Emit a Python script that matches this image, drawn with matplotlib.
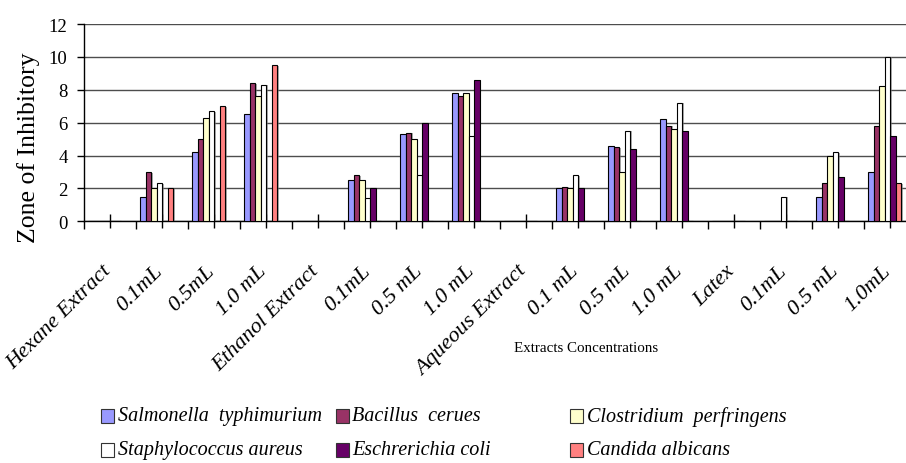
import numpy as np
import matplotlib
matplotlib.use("Agg")
import matplotlib.pyplot as plt
from matplotlib import patheffects as pe
from matplotlib.patches import Rectangle
from matplotlib.transforms import offset_copy

plt.rcParams["font.family"] = ["Liberation Serif", "DejaVu Serif"]

# ---- data ----
CATEGORIES = ["Hexane Extract", "0.1mL", "0.5mL", "1.0 mL",
              "Ethanol Extract", "0.1mL", "0.5 mL", "1.0 mL",
              "Aqueous Extract", "0.1 mL", "0.5 mL", "1.0 mL",
              "Latex", "0.1mL", "0.5 mL", "1.0mL"]
SPECIES = ["Salmonella  typhimurium", "Bacillus  cerues", "Clostridium  perfringens",
           "Staphylococcus aureus", "Eschrerichia coli", "Candida albicans"]
salmonella = [0, 1.5, 4.2, 6.5, 0, 2.5, 5.3, 7.8, 0, 2.0, 4.6, 6.2, 0, 0, 1.5, 3.0]
bacillus   = [0, 3.0, 5.0, 8.4, 0, 2.8, 5.4, 7.6, 0, 2.1, 4.5, 5.8, 0, 0, 2.3, 5.8]
clostridium = [0, 2.0, 6.3, 7.6, 0, 2.5, 5.0, 7.8, 0, 2.0, 3.0, 5.6, 0, 0, 4.0, 8.2]
staph      = [0, 2.3, 6.7, 8.3, 0, 1.4, 2.8, 5.2, 0, 2.8, 5.5, 7.2, 0, 1.5, 4.2, 10.0]
ecoli      = [0, 0, 0, 0, 0, 2.0, 6.0, 8.6, 0, 2.0, 4.4, 5.5, 0, 0, 2.7, 5.2]
candida    = [0, 2.0, 7.0, 9.5, 0, 0, 0, 0, 0, 0, 0, 0, 0, 0, 0, 2.3]
SERIES = [salmonella, bacillus, clostridium, staph, ecoli, candida]
COLORS = ["#9999FF", "#993366", "#FFFFCC", "#FFFFFF", "#660066", "#FF8080"]

W, H = 906, 464
fig = plt.figure(figsize=(W / 100, H / 100), dpi=100)
# plot area runs slightly past the right edge of the picture, as in the original
ax = fig.add_axes([84.3 / W, 1 - 222.3 / H, 832 / W, 197.3 / H])

x = np.arange(len(CATEGORIES)) + 0.5
bw = 5.5 / 52  # 8 slots per category, 6 used
shadow = [pe.SimplePatchShadow(offset=(1.0, -0.4), shadow_rgbFace="0.45", alpha=0.6), pe.Normal()]
for k, (vals, col) in enumerate(zip(SERIES, COLORS)):
    ax.bar(x - 4 * bw + k * bw, vals, width=bw, align="edge", color=col,
           edgecolor="black", linewidth=0.8, zorder=3, path_effects=shadow)

ax.set_xlim(0, 16)
ax.set_ylim(0, 12)
ax.set_yticks(np.arange(0, 13, 2))
ax.yaxis.grid(True, color="0.3", lw=1.0)
ax.set_axisbelow(True)
for s in ["top", "right"]:
    ax.spines[s].set_visible(False)
ax.spines["left"].set_linewidth(1.0)
ax.spines["bottom"].set_linewidth(1.0)

ax.set_xticks(x)
ax.set_xticklabels([])
ax.set_xticks(np.arange(0, 17), minor=True)
ax.tick_params(axis="x", which="major", direction="inout", length=10, width=1)
ax.tick_params(axis="x", which="minor", direction="out", length=6, width=1)
ax.tick_params(axis="y", direction="out", length=5, width=1, pad=7, labelsize=13.5)

lab_tr = offset_copy(ax.get_xaxis_transform(), fig=fig, x=-9, y=-40, units="dots")
for xi, lab in zip(x, CATEGORIES):
    ax.text(xi, 0, lab, transform=lab_tr, rotation=45, rotation_mode="anchor",
            ha="right", va="top", fontstyle="italic", fontsize=16, clip_on=False)

fig.text(28.5 / W, 1 - 148 / H, "Zone of Inhibitory", rotation=90, ha="center",
         va="center", fontsize=18.5)
fig.text(586 / W, 1 - 349 / H, "Extracts Concentrations", ha="center", va="center",
         fontsize=10.8)

# legend: 3 columns x 2 rows, placed like the original
for i, (name, col) in enumerate(zip(SPECIES, COLORS)):
    cx = 101 + 234.5 * (i % 3)
    cy = 417 + 34 * (i // 3)
    fig.add_artist(Rectangle((cx / W, 1 - (cy + 7) / H), 13 / W, 14 / H,
                             transform=fig.transFigure, facecolor=col,
                             edgecolor="0.2", linewidth=0.8))
    fig.text((cx + 17) / W, 1 - cy / H, name, ha="left", va="center",
             fontstyle="italic", fontsize=14.5)

fig.savefig("out.png", dpi=100)
